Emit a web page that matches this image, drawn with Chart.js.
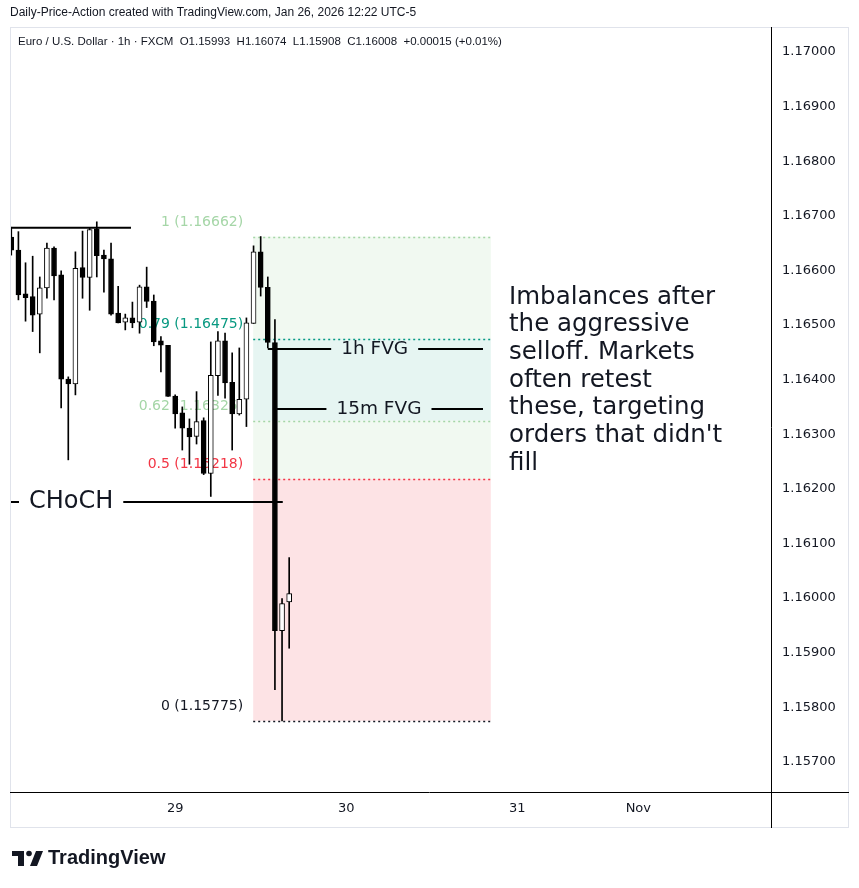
<!DOCTYPE html>
<html>
<head>
<meta charset="utf-8">
<script src="https://cdn.jsdelivr.net/npm/chart.js@4.4.1/dist/chart.umd.min.js"></script>
<style>
  html, body { margin: 0; padding: 0; background: #fff; }
  #wrap { position: relative; width: 859px; height: 888px; }
</style>
</head>
<body>
<div id="wrap"><canvas id="chart" width="859" height="888"></canvas></div>
<script>
// EURUSD 1h candles, Oct 28 01:00 -> Oct 29 16:00 (UTC-5)
const opens  = [1.16661, 1.16637, 1.16557, 1.16552, 1.16520, 1.16568, 1.16641, 1.16592, 1.16401, 1.16392,
                1.16605, 1.16587, 1.16676, 1.16628, 1.16621, 1.16522, 1.16505, 1.16513, 1.16505, 1.16570,
                1.16544, 1.16471, 1.16463, 1.16370, 1.16339, 1.16311, 1.16296, 1.16325, 1.16228, 1.16407,
                1.16471, 1.16395, 1.16337, 1.16364, 1.16503, 1.16634, 1.16569, 1.16468, 1.15940, 1.15993];
const highs  = [1.16679, 1.16671, 1.16614, 1.16626, 1.16588, 1.16650, 1.16643, 1.16599, 1.16405, 1.16634,
                1.16672, 1.16678, 1.16689, 1.16637, 1.16650, 1.16571, 1.16520, 1.16542, 1.16573, 1.16606,
                1.16555, 1.16479, 1.16463, 1.16372, 1.16350, 1.16328, 1.16378, 1.16330, 1.16469, 1.16488,
                1.16485, 1.16449, 1.16458, 1.16513, 1.16645, 1.16662, 1.16588, 1.16510, 1.15999, 1.16074];
const lows   = [1.16628, 1.16546, 1.16507, 1.16488, 1.16449, 1.16549, 1.16546, 1.16348, 1.16253, 1.16372,
                1.16549, 1.16527, 1.16588, 1.16560, 1.16518, 1.16504, 1.16491, 1.16495, 1.16485, 1.16532,
                1.16462, 1.16414, 1.16369, 1.16311, 1.16271, 1.16245, 1.16282, 1.16226, 1.16186, 1.16371,
                1.16366, 1.16271, 1.16335, 1.16314, 1.16503, 1.16553, 1.16458, 1.15832, 1.15775, 1.15908];
const closes = [1.16637, 1.16555, 1.16550, 1.16518, 1.16568, 1.16641, 1.16590, 1.16401, 1.16392, 1.16604,
                1.16587, 1.16675, 1.16627, 1.16621, 1.16520, 1.16504, 1.16513, 1.16504, 1.16570, 1.16543,
                1.16469, 1.16463, 1.16369, 1.16337, 1.16311, 1.16295, 1.16323, 1.16228, 1.16408, 1.16471,
                1.16394, 1.16337, 1.16364, 1.16504, 1.16634, 1.16569, 1.16468, 1.15940, 1.15990, 1.16008];

// time axis (bar index units)
const timeTickPos = [23, 47, 71, 88];
const timeTickLabels = ['29', '30', '31', 'Nov'];
const priceTicks = [1.157, 1.158, 1.159, 1.160, 1.161, 1.162, 1.163, 1.164, 1.165, 1.166, 1.167, 1.168, 1.169, 1.170];

// fib retracement
const fibRatios = [1, 0.79, 0.62, 0.5, 0];
const fibPrices = [1.16662, 1.16475, 1.16325, 1.16218, 1.15775];
const fibFrom = 33.95, fibTo = 67.3;

// drawings
const rangeHigh = 1.16678, rangeHighTo = 16.8;
const chochPrice = 1.16176, chochFrom = -5, chochTo = 38.1, chochTextAt = 8.4;
const fvg1hPrice = 1.16456, fvg1hFrom = 36.0, fvg1hTo = 66.2, fvg1hTextAt = 51.0;
const fvg15Price = 1.16346, fvg15From = 37.25, fvg15To = 66.2, fvg15TextAt = 51.6;
const noteLines = ['Imbalances after', 'the aggressive', 'selloff. Markets', 'often retest',
                   'these, targeting', "orders that didn't", 'fill'];
const noteAt = 69.85, notePrice = 1.16551;

const headerTop = 'Daily-Price-Action created with TradingView.com, Jan 26, 2026 12:22 UTC-5';
const headerSymbol = 'Euro / U.S. Dollar \u00b7 1h \u00b7 FXCM  O1.15993  H1.16074  L1.15908  C1.16008  +0.00015 (+0.01%)';

const FONT = '"DejaVu Sans", Verdana, sans-serif';
const INK = '#131722';

const fibColors = ['#a5d6a7', '#089981', '#a5d6a7', '#f23645', '#131722'];
const fibZones = ['rgba(76,175,80,0.08)', 'rgba(8,153,129,0.10)', 'rgba(76,175,80,0.08)', 'rgba(242,54,69,0.14)'];

function splitLine(ctx, xa, xb, py, text, cx) {
  const w = ctx.measureText(text).width;
  const gap = 10;
  ctx.beginPath();
  ctx.moveTo(xa, py); ctx.lineTo(cx - w / 2 - gap, py);
  ctx.moveTo(cx + w / 2 + gap, py); ctx.lineTo(xb, py);
  ctx.stroke();
  ctx.fillText(text, cx, py);
}

const overlay = {
  id: 'overlay',
  beforeDatasetsDraw(chart) {
    const {ctx, chartArea: a, scales: {x, y}} = chart;
    ctx.save();
    ctx.beginPath(); ctx.rect(a.left, a.top, a.right - a.left, a.bottom - a.top); ctx.clip();
    const x0 = x.getPixelForValue(fibFrom), x1 = x.getPixelForValue(fibTo);
    for (let i = 0; i < fibPrices.length - 1; i++) {
      const y0 = y.getPixelForValue(fibPrices[i]), y1 = y.getPixelForValue(fibPrices[i + 1]);
      ctx.fillStyle = fibZones[i];
      ctx.fillRect(x0, y0, x1 - x0, y1 - y0);
    }
    ctx.lineWidth = 1.5;
    ctx.setLineDash([2, 3]);
    ctx.font = '14px ' + FONT;
    ctx.textAlign = 'right';
    ctx.textBaseline = 'middle';
    fibPrices.forEach((p, i) => {
      const py = Math.round(y.getPixelForValue(p)) + 0.5;
      ctx.strokeStyle = fibColors[i];
      ctx.beginPath(); ctx.moveTo(x0, py); ctx.lineTo(x1, py); ctx.stroke();
      ctx.fillStyle = fibColors[i];
      ctx.fillText(`${fibRatios[i]} (${p.toFixed(5)})`, x0 - 10, py - 15);
    });
    ctx.restore();
  },
  afterDatasetsDraw(chart) {
    const {ctx, chartArea: a, scales: {x, y}} = chart;
    ctx.save();
    ctx.beginPath(); ctx.rect(a.left, a.top, a.right - a.left, a.bottom - a.top); ctx.clip();
    ctx.strokeStyle = '#000';
    ctx.fillStyle = INK;
    ctx.lineWidth = 2;

    // range high
    let py = y.getPixelForValue(rangeHigh);
    ctx.beginPath(); ctx.moveTo(a.left, py); ctx.lineTo(x.getPixelForValue(rangeHighTo), py); ctx.stroke();

    ctx.textAlign = 'center';
    ctx.textBaseline = 'middle';
    ctx.font = '24px ' + FONT;
    splitLine(ctx, x.getPixelForValue(chochFrom), x.getPixelForValue(chochTo),
      y.getPixelForValue(chochPrice), 'CHoCH', x.getPixelForValue(chochTextAt));

    ctx.font = '18.5px ' + FONT;
    splitLine(ctx, x.getPixelForValue(fvg1hFrom), x.getPixelForValue(fvg1hTo),
      y.getPixelForValue(fvg1hPrice), '1h FVG', x.getPixelForValue(fvg1hTextAt));
    splitLine(ctx, x.getPixelForValue(fvg15From), x.getPixelForValue(fvg15To),
      y.getPixelForValue(fvg15Price), '15m FVG', x.getPixelForValue(fvg15TextAt));

    ctx.font = '24.5px ' + FONT;
    ctx.textAlign = 'left';
    const nx = x.getPixelForValue(noteAt), ny = y.getPixelForValue(notePrice);
    noteLines.forEach((t, i) => ctx.fillText(t, nx, ny + i * 27.7));

    ctx.font = '11.5px "Liberation Sans", Arial, sans-serif';
    ctx.fillText(headerSymbol, a.left + 8, 42);
    ctx.restore();
  },
  afterDraw(chart) {
    const {ctx} = chart;
    ctx.save();
    // frame
    ctx.strokeStyle = '#e0e3eb';
    ctx.lineWidth = 1;
    ctx.strokeRect(10.5, 27.5, 838, 800);
    ctx.strokeStyle = '#000';
    ctx.beginPath();
    ctx.moveTo(771.5, 27); ctx.lineTo(771.5, 828);
    ctx.moveTo(10, 792.5); ctx.lineTo(849, 792.5);
    ctx.stroke();

    ctx.fillStyle = INK;
    ctx.textBaseline = 'middle';
    ctx.textAlign = 'left';
    ctx.font = '12px "Liberation Sans", Arial, sans-serif';
    ctx.fillText(headerTop, 10, 13);

    // logo
    ctx.fillStyle = '#131722';
    ctx.fillRect(12, 851, 12, 5);
    ctx.fillRect(18, 851, 6, 15);
    ctx.beginPath(); ctx.arc(29, 853.5, 2.8, 0, Math.PI * 2); ctx.fill();
    ctx.beginPath();
    ctx.moveTo(36, 851); ctx.lineTo(43, 851); ctx.lineTo(37, 866); ctx.lineTo(30, 866);
    ctx.closePath(); ctx.fill();
    ctx.font = 'bold 20px "Liberation Sans", Arial, sans-serif';
    ctx.fillText('TradingView', 48, 858);
    ctx.restore();
  }
};

const bodies = opens.map((o, i) => ({x: i, y: [o, closes[i]]}));
const wicks = highs.map((h, i) => ({x: i, y: [lows[i], h]}));
const bodyFill = opens.map((o, i) => closes[i] > o ? '#ffffff' : '#000000');

new Chart(document.getElementById('chart'), {
  type: 'bar',
  data: {
    datasets: [
      { label: 'body', data: bodies, backgroundColor: bodyFill, borderColor: '#000', borderWidth: 1,
        borderSkipped: false, barThickness: 5, grouped: false },
      { label: 'wick', data: wicks, backgroundColor: '#000', borderWidth: 0, barThickness: 1, grouped: false }
    ]
  },
  options: {
    responsive: false,
    animation: false,
    layout: { padding: { left: 10, top: 27, right: 10, bottom: 60 } },
    plugins: { legend: { display: false }, tooltip: { enabled: false } },
    scales: {
      x: {
        type: 'linear', position: 'bottom', min: -0.18, max: 106.62, offset: false,
        grid: { display: false, drawTicks: false }, border: { display: false },
        afterBuildTicks: s => { s.ticks = timeTickPos.map(v => ({ value: v })); },
        afterFit: s => { s.height = 36; },
        ticks: {
          padding: 9, autoSkip: false, maxRotation: 0, color: INK,
          font: { family: FONT, size: 13 },
          callback: v => timeTickLabels[timeTickPos.indexOf(v)]
        }
      },
      y: {
        type: 'linear', position: 'right', min: 1.156447, max: 1.170458,
        grid: { display: false, drawTicks: false }, border: { display: false },
        afterBuildTicks: s => { s.ticks = priceTicks.map(v => ({ value: v })); },
        afterFit: s => { s.width = 78; },
        ticks: {
          padding: 11, color: INK, font: { family: FONT, size: 13 },
          callback: v => v.toFixed(5)
        }
      }
    }
  },
  plugins: [overlay]
});
</script>
</body>
</html>
